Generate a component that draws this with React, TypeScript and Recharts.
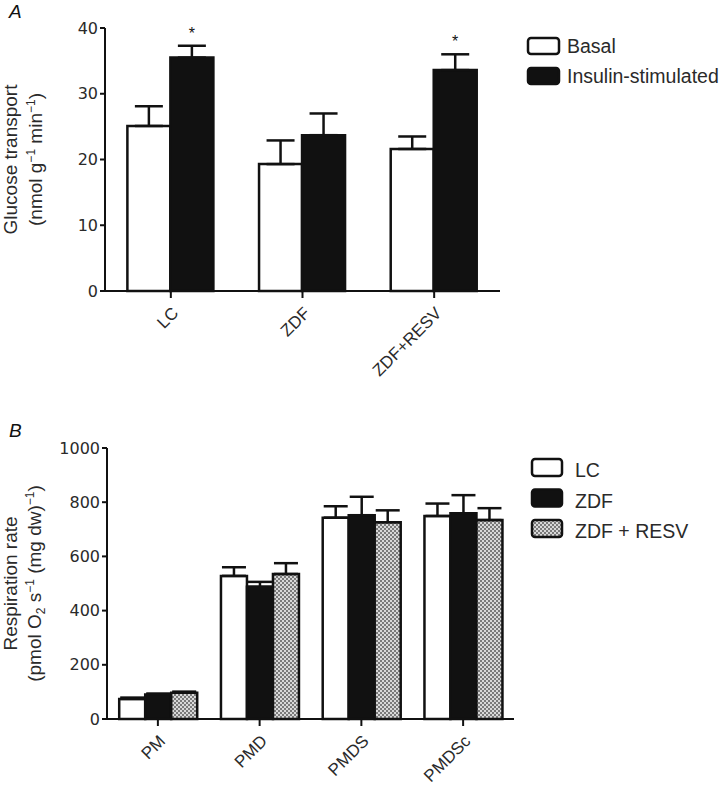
import { Bar, BarChart, ErrorBar, LabelList, XAxis, YAxis } from 'recharts'

const groupsA = ['LC', 'ZDF', 'ZDF+RESV']
const basal = [25.1, 19.3, 21.6]
const basalErr = [3.0, 3.6, 1.9]
const insulin = [35.5, 23.7, 33.6]
const insulinErr = [1.8, 3.3, 2.4]
const insulinSig = [true, false, true]
const seriesA = ['Basal', 'Insulin-stimulated']

const groupsB = ['PM', 'PMD', 'PMDS', 'PMDSc']
const lc = [74, 528, 743, 749]
const lcErr = [5, 32, 42, 46]
const zdf = [90, 488, 752, 759]
const zdfErr = [4, 18, 68, 67]
const resv = [97, 535, 726, 734]
const resvErr = [4, 40, 44, 44]
const seriesB = ['LC', 'ZDF', 'ZDF + RESV']

const dataA = groupsA.map((name, i) => ({
  name,
  basal: basal[i],
  basalErr: [0, basalErr[i]],
  insulin: insulin[i],
  insulinErr: [0, insulinErr[i]],
  errUp: insulinErr[i],
  sig: insulinSig[i] ? '*' : '',
}))

const dataB = groupsB.map((name, i) => ({
  name,
  lc: lc[i],
  lcErr: [0, lcErr[i]],
  zdf: zdf[i],
  zdfErr: [0, zdfErr[i]],
  resv: resv[i],
  resvErr: [0, resvErr[i]],
}))

const FONT = '"Liberation Sans", Arial, sans-serif'
const NUM_FONT = '"DejaVu Sans", sans-serif'
const INK = '#111'
const TEXT = '#2a2a2a'
const fillsA = ['#fff', INK]
const fillsB = ['#fff', INK, 'url(#checker)']

function RotatedTick({ x, y, payload }: any) {
  return (
    <g transform={`translate(${x},${y})`}>
      <text
        transform="rotate(-45)"
        x={-4}
        y={16}
        textAnchor="end"
        fontFamily={FONT}
        fontSize={17}
        fill={TEXT}
      >
        {payload.value}
      </text>
    </g>
  )
}

function StarLabel(props: any) {
  const { x, y, width, height, value, index } = props
  if (!dataA[index].sig) return null
  const errPx = (dataA[index].errUp * height) / value
  return (
    <text x={x + width / 2} y={y - errPx - 7} textAnchor="middle" fontFamily={FONT} fontSize={16} fill={INK}>
      *
    </text>
  )
}

function LabelA({ viewBox }: any) {
  const cy = viewBox.y + viewBox.height / 2
  return (
    <g fontFamily={FONT} fontSize={19} fill={TEXT}>
      <text transform={`translate(17,${cy}) rotate(-90)`} textAnchor="middle">
        Glucose transport
      </text>
      <text transform={`translate(42,${cy}) rotate(-90)`} textAnchor="middle">
        (nmol g<tspan dy={-7} fontSize={12}>−1</tspan>
        <tspan dy={7}> min</tspan>
        <tspan dy={-7} fontSize={12}>−1</tspan>
        <tspan dy={7}>)</tspan>
      </text>
    </g>
  )
}

function LabelB({ viewBox }: any) {
  const cy = viewBox.y + viewBox.height / 2
  return (
    <g fontFamily={FONT} fontSize={19} fill={TEXT}>
      <text transform={`translate(17,${cy}) rotate(-90)`} textAnchor="middle">
        Respiration rate
      </text>
      <text transform={`translate(41,${cy}) rotate(-90)`} textAnchor="middle">
        (pmol O<tspan dy={4} fontSize={12}>2</tspan>
        <tspan dy={-4}> s</tspan>
        <tspan dy={-7} fontSize={12}>−1</tspan>
        <tspan dy={7}> (mg dw)</tspan>
        <tspan dy={-7} fontSize={12}>−1</tspan>
        <tspan dy={7}>)</tspan>
      </text>
    </g>
  )
}

const axisLine = { stroke: INK, strokeWidth: 2 }
const tickLine = { stroke: INK, strokeWidth: 2 }
const yTick = { fontFamily: NUM_FONT, fontSize: 16, fill: TEXT }

export default function App() {
  return (
    <div style={{ position: 'absolute', left: 0, top: 0, width: 720, height: 800, background: '#fff', overflow: 'hidden' }}>
      <div style={{ position: 'absolute', left: 0, top: 0 }}>
        <BarChart
          width={720}
          height={400}
          data={dataA}
          margin={{ top: 28, right: 220, bottom: 0, left: 45 }}
          barCategoryGap="17%"
          barGap={0}
        >
          <XAxis
            dataKey="name"
            axisLine={axisLine}
            tickLine={tickLine}
            tickSize={7}
            tick={<RotatedTick />}
            height={109}
            interval={0}
          />
          <YAxis
            domain={[0, 40]}
            ticks={[0, 10, 20, 30, 40]}
            width={60}
            axisLine={axisLine}
            tickLine={tickLine}
            tickSize={5}
            tick={yTick}
            label={<LabelA />}
          />
          <Bar dataKey="basal" name={seriesA[0]} fill={fillsA[0]} stroke={INK} strokeWidth={2.5} isAnimationActive={false}>
            <ErrorBar dataKey="basalErr" width={14} stroke={INK} strokeWidth={2.5} />
          </Bar>
          <Bar dataKey="insulin" name={seriesA[1]} fill={fillsA[1]} stroke={INK} strokeWidth={2.5} isAnimationActive={false}>
            <ErrorBar dataKey="insulinErr" width={14} stroke={INK} strokeWidth={2.5} />
            <LabelList dataKey="insulin" content={<StarLabel />} />
          </Bar>
        </BarChart>
      </div>

      <div style={{ position: 'absolute', left: 0, top: 400 }}>
        <BarChart
          width={720}
          height={400}
          data={dataB}
          margin={{ top: 48, right: 206, bottom: 0, left: 47 }}
          barCategoryGap="12%"
          barGap={0}
        >
          <defs>
            <pattern id="checker" width={4} height={4} patternUnits="userSpaceOnUse">
              <rect width={4} height={4} fill="#d8d8d8" />
              <rect width={2} height={2} fill="#7a7a7a" />
              <rect x={2} y={2} width={2} height={2} fill="#7a7a7a" />
            </pattern>
          </defs>
          <XAxis
            dataKey="name"
            axisLine={axisLine}
            tickLine={tickLine}
            tickSize={7}
            tick={<RotatedTick />}
            height={81}
            interval={0}
          />
          <YAxis
            domain={[0, 1000]}
            ticks={[0, 200, 400, 600, 800, 1000]}
            width={60}
            axisLine={axisLine}
            tickLine={tickLine}
            tickSize={5}
            tick={yTick}
            label={<LabelB />}
          />
          <Bar dataKey="lc" name={seriesB[0]} fill={fillsB[0]} stroke={INK} strokeWidth={2.5} isAnimationActive={false}>
            <ErrorBar dataKey="lcErr" width={12} stroke={INK} strokeWidth={2.5} />
          </Bar>
          <Bar dataKey="zdf" name={seriesB[1]} fill={fillsB[1]} stroke={INK} strokeWidth={2.5} isAnimationActive={false}>
            <ErrorBar dataKey="zdfErr" width={12} stroke={INK} strokeWidth={2.5} />
          </Bar>
          <Bar dataKey="resv" name={seriesB[2]} fill={fillsB[2]} stroke={INK} strokeWidth={2.5} isAnimationActive={false}>
            <ErrorBar dataKey="resvErr" width={12} stroke={INK} strokeWidth={2.5} />
          </Bar>
        </BarChart>
      </div>

      <svg width={720} height={800} style={{ position: 'absolute', left: 0, top: 0, pointerEvents: 'none' }}>
        <g fontFamily={FONT} fontStyle="italic" fontSize={19} fill={INK}>
          <text x={9} y={18}>A</text>
          <text x={9} y={437}>B</text>
        </g>
        <g fontFamily={FONT} fontSize={19.5} fill={TEXT}>
          {seriesA.map((label, i) => (
            <g key={label}>
              <rect x={528} y={38 + i * 30} width={31} height={16} rx={3} fill={fillsA[i]} stroke={INK} strokeWidth={2.5} />
              <text x={567} y={53 + i * 30}>{label}</text>
            </g>
          ))}
          {seriesB.map((label, i) => (
            <g key={label}>
              <rect x={532} y={459 + i * 30.5} width={30} height={17} rx={3} fill={fillsB[i]} stroke={INK} strokeWidth={2.5} />
              <text x={575} y={477 + i * 30.5}>{label}</text>
            </g>
          ))}
        </g>
      </svg>
    </div>
  )
}
